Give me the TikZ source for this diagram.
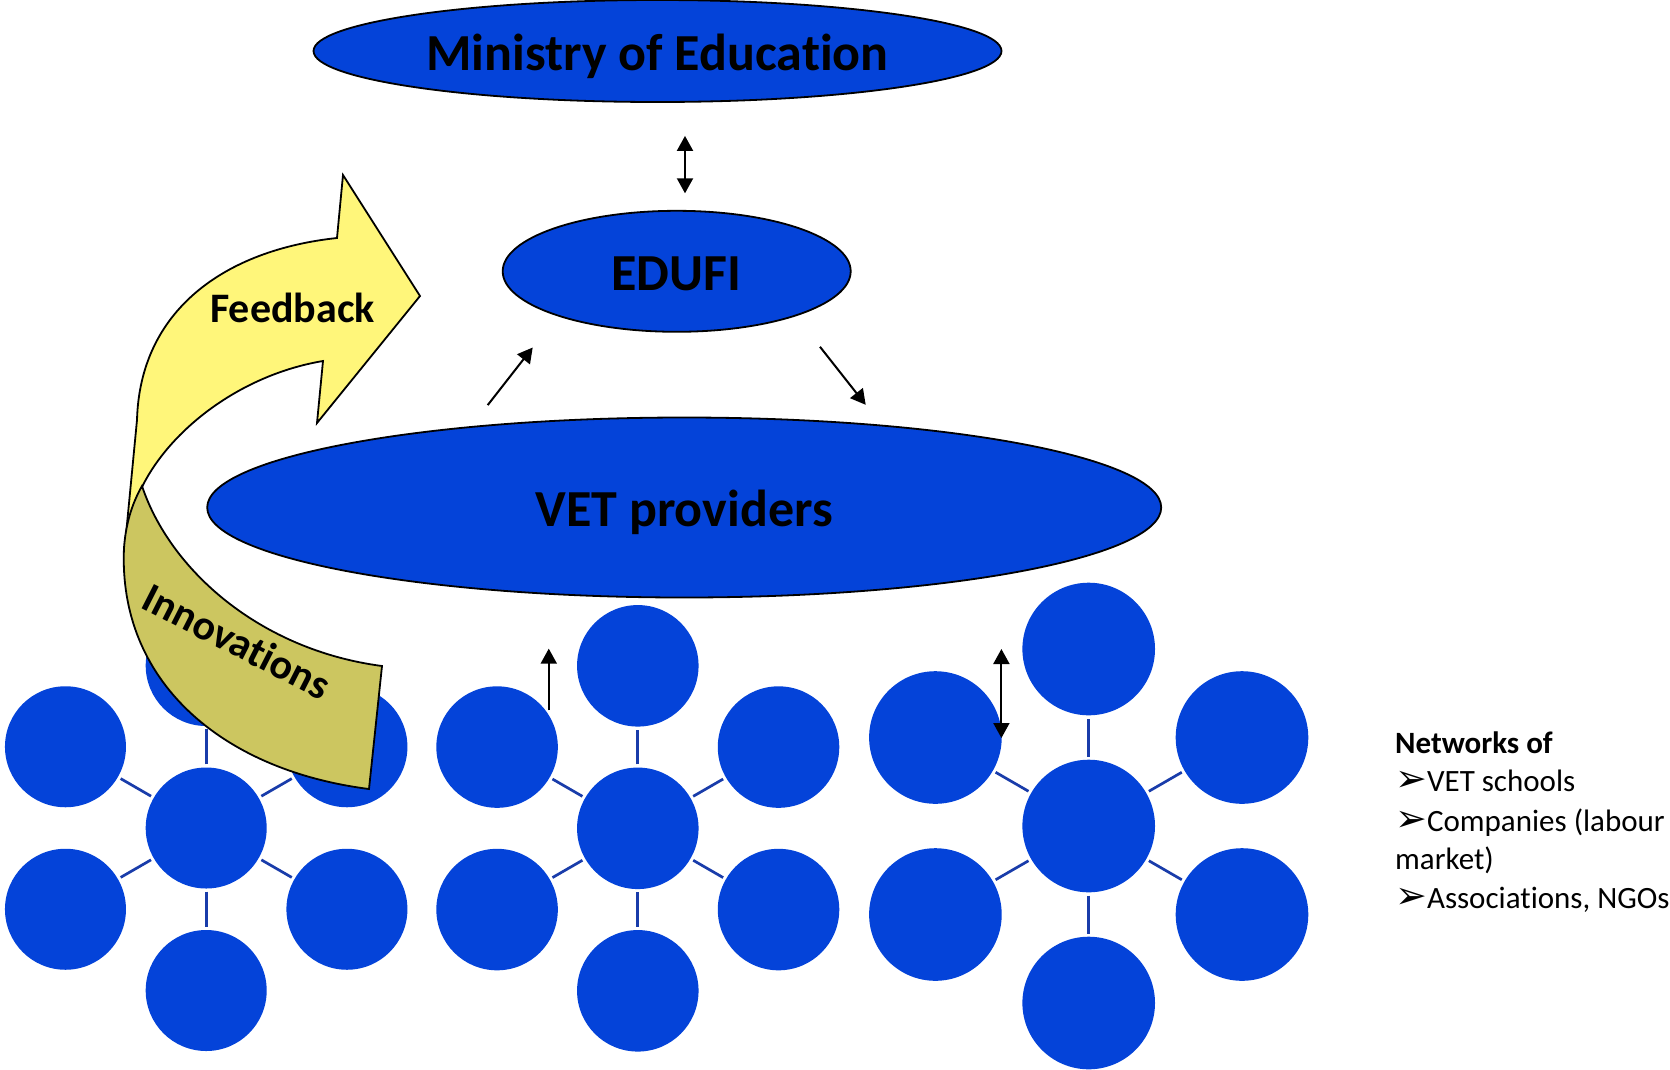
\documentclass[tikz,border=0pt]{standalone}
\usepackage{fontspec}
\setmainfont{Carlito}[Ligatures=NoCommon]
\newfontfamily\dejavu{DejaVu Sans}
\usetikzlibrary{shapes.geometric,arrows.meta,calc}
\definecolor{vetblue}{RGB}{4,67,217}
\definecolor{linkblue}{RGB}{25,60,170}
\definecolor{fbyellow}{RGB}{255,246,122}
\definecolor{innolive}{RGB}{204,198,96}

\newcommand{\netcluster}[5]{%
  \node[netc, minimum size=#4] (#1) at (#2,#3) {};
  \foreach \a/\n in {-90/t,-30/ur,30/lr,90/b,150/ll,-150/ul}{
    \node[netc, minimum size=#4] (#1\n) at ($(#1)+(\a:#5)$) {};
    \draw[netlink] (#1) -- (#1\n);
  }%
}
\newcommand{\bul}{{\dejavu\fontsize{38}{36}\selectfont ➢}}

\begin{document}
\begin{tikzpicture}[x=1pt,y=-1pt,
  bigell/.style={ellipse, draw=black, line width=1.8pt, fill=vetblue, inner sep=0pt},
  bigtxt/.style={anchor=base, inner sep=0pt, font=\bfseries\fontsize{52}{60}\selectfont},
  netc/.style={circle, fill=vetblue, inner sep=0pt, draw=none},
  netlink/.style={draw=linkblue, line width=2.7pt, shorten >=3pt, shorten <=3pt},
  flow/.style={line width=2pt, -{Triangle[width=16pt,length=15pt]}},
  flowtwo/.style={line width=2pt, {Triangle[width=16pt,length=15pt]}-{Triangle[width=16pt,length=15pt]}},
  band/.style={draw=black, line width=1.8pt, line join=miter},
  lbl/.style={inner sep=0pt, font=\bfseries\fontsize{42}{50}\selectfont},
  side/.style={anchor=base west, inner sep=0pt, font=\fontsize{31}{36}\selectfont},
]
\fill[white] (0,0) rectangle (1670,1069);
\useasboundingbox (0,0) rectangle (1670,1069);

% networks
\netcluster{n1}{206.2}{828}{121}{162.5}
\netcluster{n2}{637.8}{828.3}{121.5}{162.5}
\netcluster{n3}{1088.7}{826}{132.6}{177}

% ellipses
\node[bigell, minimum width=688pt, minimum height=102pt] (min) at (657.5,51) {};
\node[bigtxt] (minT) at (657.5,70) {Ministry of Education};
\node[bigell, minimum width=348pt, minimum height=121pt] (edufi) at (676.7,271.3) {};
\node[bigtxt] (edufiT) at (676.5,290) {EDUFI};
\node[bigell, minimum width=954pt, minimum height=180pt] (vet) at (684.2,507.5) {};
\node[bigtxt] (vetT) at (684.2,526.7) {VET providers};

% arrows
\draw[flowtwo] ([shift={(27.5,33)}]min.south) -- ([shift={(8.3,-16.6)}]edufi.north);
\draw[flow] ([shift={(-196.5,-11.5)}]vet.north) -- ([shift={(-144,14.8)}]edufi.south);
\draw[flow] ([shift={(143.3,14.1)}]edufi.south) -- ([shift={(181.5,-11.8)}]vet.north);
\draw[flow] ([shift={(51.7,-36.7)}]n2ul.center) -- ([shift={(51.7,-98.4)}]n2ul.center);
\draw[flowtwo] ([shift={(66,-88.5)}]n3ul.center) -- ([shift={(66,0.5)}]n3ul.center);

% feedback arrow
\draw[band, fill=fbyellow] (125,545) -- (137,420)
  .. controls (140,310) and (225,250) .. (337,238)
  -- (343,175) -- (420,296) -- (317,423) -- (323,361)
  .. controls (240,375) and (170,430) .. (142,487) -- cycle;
\node[lbl, anchor=base] (fb) at (292.5,322.3) {Feedback};

% innovations band
\draw[band, fill=innolive] (142,486)
  .. controls (170,570) and (260,650) .. (382,666)
  -- (369,789)
  .. controls (220,770) and (118,680) .. (124,548)
  .. controls (126,520) and (134,500) .. (142,486) -- cycle;
\node[lbl, rotate=-27] (inno) at (237,641) {Innovations};

% side text
\node[side, font=\bfseries\fontsize{31}{36}\selectfont] (net0) at (1395,753) {Networks of};
\node[side] (net1) at (1395,791) {\bul VET schools};
\node[side] (net2) at (1395,831) {\bul Companies (labour};
\node[side] (net3) at (1395,869) {market)};
\node[side] (net4) at (1395,908) {\bul Associations, NGOs};
\end{tikzpicture}
\end{document}
